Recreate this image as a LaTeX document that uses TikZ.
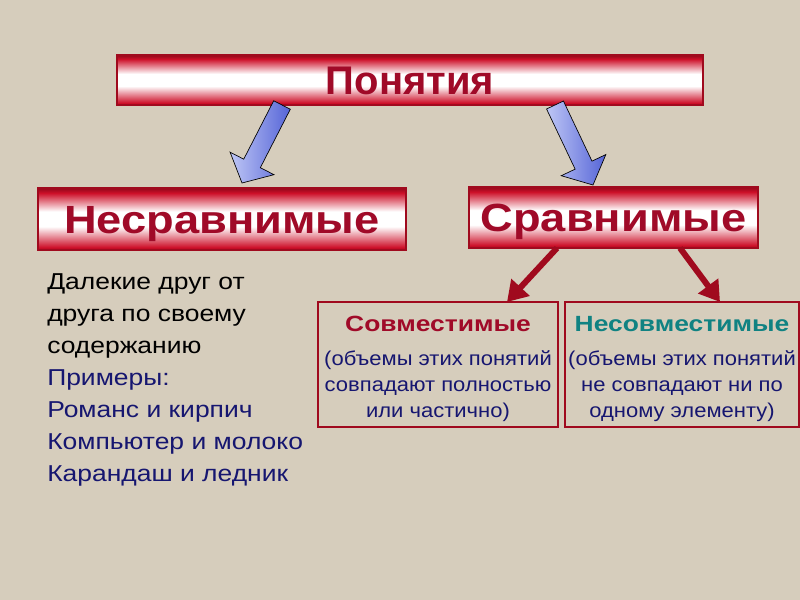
\documentclass[tikz,border=0pt]{standalone}
\usepackage{fontspec}
\setmainfont{Liberation Sans}[FakeStretch=1.15]
\newfontfamily\titlefont{Liberation Sans}
\newfontfamily\boxfont{Liberation Sans}[FakeStretch=1.1]
\newfontfamily\headfont{Liberation Sans}[FakeStretch=1.2]
\usepackage{tikz}
\usetikzlibrary{calc,arrows.meta}

\definecolor{bgcol}{RGB}{214,205,188}
\definecolor{boxred}{RGB}{205,15,40}
\definecolor{edgered}{RGB}{160,10,30}
\definecolor{txtred}{RGB}{160,10,40}
\definecolor{navy}{RGB}{22,22,112}
\definecolor{teal}{RGB}{16,130,130}
\definecolor{arrlight}{RGB}{190,198,245}
\definecolor{arrdark}{RGB}{85,100,215}

\pgfdeclareverticalshading{redband}{100bp}{color(0bp)=(edgered); color(25bp)=(edgered);
  color(27bp)=(boxred); color(44bp)=(white); color(56bp)=(white);
  color(71bp)=(boxred); color(74bp)=(edgered); color(100bp)=(edgered)}

\tikzset{
  bigbox/.style={draw=edgered, line width=1.5pt, shading=redband,
    text=txtred, inner sep=0pt, text depth=0pt},
  smallbox/.style={draw=edgered, line width=1.5pt, align=center, text=navy, inner sep=0pt},
  bluearrow/.style={draw=black, line width=0.5pt, left color=arrlight, right color=arrdark},
  redarrow/.style={draw=edgered, line width=4.5pt, -{Triangle[length=15pt,width=18pt]}},
}

% fat arrow from #1 to #2
\newcommand\fatarrow[2]{%
  \coordinate (hb) at ($(#2)!16.5pt!(#1)$);
  \path[bluearrow] ($(#1)!7pt!-90:(#2)$) -- ($(hb)!7pt!90:(#1)$) -- ($(hb)!18.5pt!90:(#1)$)
    -- (#2) -- ($(hb)!18.5pt!-90:(#1)$) -- ($(hb)!7pt!-90:(#1)$) -- ($(#1)!7pt!90:(#2)$) -- cycle;
}

\begin{document}
\begin{tikzpicture}[x=0.75pt,y=-0.75pt]
	\fill[bgcol] (0,0) rectangle (800,600);
	\useasboundingbox (0,0) rectangle (800,600);
	% boxes
	\node[bigbox, minimum width=439.5pt, minimum height=37.5pt, text height=21.5pt, font=\titlefont\fontsize{30}{32}\selectfont\bfseries] (pon) at (410,80) {Понятия};
	\node[bigbox, minimum width=276pt, minimum height=46.5pt, text height=21pt, font=\fontsize{29.5}{30}\selectfont\bfseries] (nesr) at (222,219) {Несравнимые};
	\node[bigbox, minimum width=216.75pt, minimum height=45.75pt, text height=21pt, font=\fontsize{29.5}{30}\selectfont\bfseries] (sr) at (613.5,217.5) {Сравнимые};
	\node[smallbox, minimum width=180pt, minimum height=93.75pt, font=\boxfont\fontsize{15}{19.5}\selectfont] (sovm) at (438,364.5)
	  {\rule{0pt}{18pt}{\headfont\fontsize{16.5}{18}\selectfont\bfseries\color{txtred}Совместимые}\\[6pt]
	   (объемы этих понятий\\ совпадают полностью\\ или частично)};
	\node[smallbox, minimum width=175.5pt, minimum height=93.75pt, font=\boxfont\fontsize{15}{19.5}\selectfont] (nesovm) at (682,364.5)
	  {\rule{0pt}{18pt}{\headfont\fontsize{16.5}{18}\selectfont\bfseries\color{teal}Несовместимые}\\[6pt]
	   (объемы этих понятий\\ не совпадают ни по\\ одному элементу)};
	% left text
	\node[anchor=north west, align=left, inner sep=0pt, font=\fontsize{17.25}{24}\selectfont] (dal) at (47,273)
	  {Далекие друг от\\ друга по своему\\ содержанию\\
	   \color{navy}Примеры:\\ \color{navy}Романс и кирпич\\ \color{navy}Компьютер и молоко\\ \color{navy}Карандаш и ледник};
	% blue arrows
	\coordinate (p1) at (282,105);
	\coordinate (p2) at (242,183);
	\coordinate (p3) at (555,105);
	\coordinate (p4) at (593,185);
	\fatarrow{p1}{p2}
	\fatarrow{p3}{p4}
	% red arrows
	\coordinate (s1) at (557,248);
	\coordinate (t1) at (507,302);
	\coordinate (s2) at (680,248);
	\coordinate (t2) at (720,302);
	\draw[redarrow] (s1) -- (t1);
	\draw[redarrow] (s2) -- (t2);
\end{tikzpicture}
\end{document}
